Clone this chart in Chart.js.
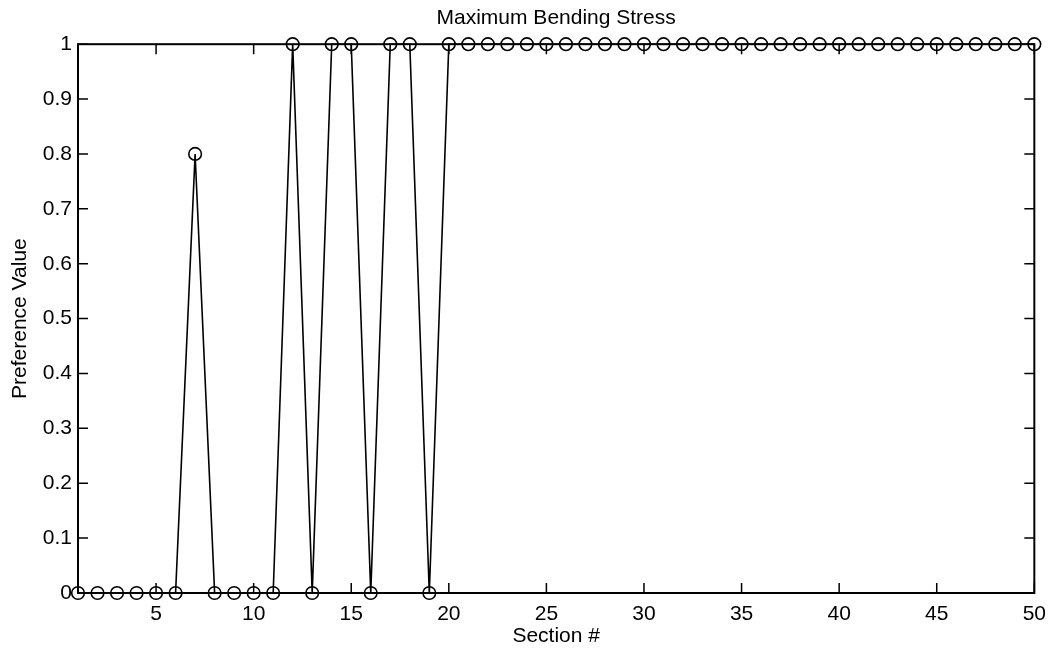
<!DOCTYPE html>
<html>
<head>
<meta charset="utf-8">
<script src="https://cdn.jsdelivr.net/npm/chart.js@4.4.0/dist/chart.umd.min.js"></script>
<style>
  html, body { margin: 0; padding: 0; background: #fff; }
  #wrap { width: 1055px; height: 658px; }
</style>
</head>
<body>
<div id="wrap"><canvas id="bendingChart" width="1055" height="658"></canvas></div>
<script>
// Section numbers and preference values
const sections = [1, 2, 3, 4, 5, 6, 7, 8, 9, 10,
                  11, 12, 13, 14, 15, 16, 17, 18, 19, 20,
                  21, 22, 23, 24, 25, 26, 27, 28, 29, 30,
                  31, 32, 33, 34, 35, 36, 37, 38, 39, 40,
                  41, 42, 43, 44, 45, 46, 47, 48, 49, 50];
const preference = [0, 0, 0, 0, 0, 0, 0.8, 0, 0, 0,
                    0, 1, 0, 1, 1, 0, 1, 1, 0, 1,
                    1, 1, 1, 1, 1, 1, 1, 1, 1, 1,
                    1, 1, 1, 1, 1, 1, 1, 1, 1, 1,
                    1, 1, 1, 1, 1, 1, 1, 1, 1, 1];
const xTicks = [5, 10, 15, 20, 25, 30, 35, 40, 45, 50];
const yTicks = [0, 0.1, 0.2, 0.3, 0.4, 0.5, 0.6, 0.7, 0.8, 0.9, 1];

const FONT = "'Liberation Sans', Arial, sans-serif";
const TICK_LEN = 10;

// MATLAB style box with inward ticks on all four sides
const boxPlugin = {
    id: 'matlabBox',
    afterDatasetsDraw(chart) {
        const { ctx, chartArea: a, scales } = chart;
        ctx.save();
        ctx.strokeStyle = '#000';
        ctx.lineWidth = 2;
        ctx.strokeRect(a.left, a.top, a.right - a.left, a.bottom - a.top);
        ctx.lineWidth = 1.5;
        ctx.beginPath();
        xTicks.forEach(v => {
            const px = scales.x.getPixelForValue(v);
            ctx.moveTo(px, a.bottom); ctx.lineTo(px, a.bottom - TICK_LEN);
            ctx.moveTo(px, a.top); ctx.lineTo(px, a.top + TICK_LEN);
        });
        yTicks.forEach(v => {
            const py = scales.y.getPixelForValue(v);
            ctx.moveTo(a.left, py); ctx.lineTo(a.left + TICK_LEN, py);
            ctx.moveTo(a.right, py); ctx.lineTo(a.right - TICK_LEN, py);
        });
        ctx.stroke();
        ctx.restore();
    }
};

const ctx = document.getElementById('bendingChart');
new Chart(ctx, {
    type: 'line',
    data: {
        datasets: [{
            label: 'Preference Value',
            data: sections.map((s, i) => ({ x: s, y: preference[i] })),
            borderColor: '#000',
            borderWidth: 1.6,
            pointStyle: 'circle',
            pointRadius: 6.3,
            pointBorderWidth: 1.6,
            pointBorderColor: '#000',
            pointBackgroundColor: 'rgba(0,0,0,0)',
            tension: 0,
            clip: false
        }]
    },
    options: {
        responsive: false,
        animation: false,
        layout: { padding: { left: 0, right: 19, top: 0, bottom: 0 } },
        plugins: {
            legend: { display: false },
            tooltip: { enabled: false },
            title: {
                display: true,
                text: 'Maximum Bending Stress',
                fullSize: false,
                color: '#000',
                font: { family: FONT, size: 21, weight: 'normal' },
                padding: { top: 6, bottom: 13 }
            }
        },
        scales: {
            x: {
                type: 'linear',
                min: 1,
                max: 50,
                afterBuildTicks: s => { s.ticks = xTicks.map(v => ({ value: v })); },
                afterFit: s => { s.height = 65; },
                grid: { display: false, drawTicks: false },
                border: { display: false },
                ticks: {
                    color: '#000',
                    padding: 9,
                    maxRotation: 0,
                    autoSkip: false,
                    font: { family: FONT, size: 21 }
                },
                title: {
                    display: true,
                    text: 'Section #',
                    color: '#000',
                    padding: { top: 0, bottom: 9 },
                    font: { family: FONT, size: 21 }
                }
            },
            y: {
                min: 0,
                max: 1,
                afterBuildTicks: s => { s.ticks = yTicks.map(v => ({ value: v })); },
                afterFit: s => { s.width = 78; },
                grid: { display: false, drawTicks: false },
                border: { display: false },
                ticks: {
                    color: '#000',
                    padding: 6,
                    autoSkip: false,
                    font: { family: FONT, size: 21 },
                    callback: v => String(Number(v.toFixed(1)))
                },
                title: {
                    display: true,
                    text: 'Preference Value',
                    color: '#000',
                    padding: { top: 8, bottom: 0 },
                    font: { family: FONT, size: 21 }
                }
            }
        }
    },
    plugins: [boxPlugin]
});
</script>
</body>
</html>
